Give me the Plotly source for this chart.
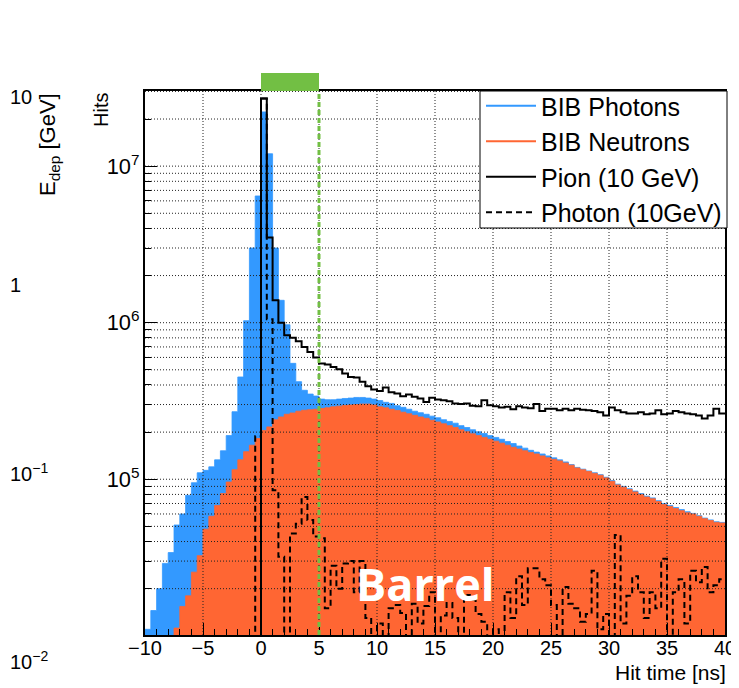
import numpy as np
import plotly.graph_objects as go

# ---------------- data (hits per 0.5 ns bin, -10 .. 40 ns) ----------------
BIN_LOW = -10.0
BIN_WIDTH = 0.5
N_BINS = 100

bib_photons = [
    1.1e4, 1.45e4, 2.0e4, 2.9e4, 3.4e4, 5.1e4, 6.0e4, 7.9e4, 9.5e4, 1.1e5,
    1.14e5, 1.2e5, 1.33e5, 1.52e5, 1.9e5, 2.7e5, 4.5e5, 1.03e6, 3.0e6, 6.45e6,
    2.22e7, 1.2e7, 3.0e6, 1.39e6, 9.7e5, 5.5e5, 4.2e5, 3.7e5, 3.5e5, 3.4e5,
    3.25e5, 3.22e5, 3.22e5, 3.25e5, 3.28e5, 3.3e5, 3.33e5, 3.33e5, 3.3e5, 3.25e5,
    3.18e5, 3.1e5, 3.05e5, 2.95e5, 2.88e5, 2.8e5, 2.72e5, 2.66e5, 2.6e5, 2.53e5,
    2.47e5, 2.4e5, 2.34e5, 2.28e5, 2.2e5, 2.14e5, 2.07e5, 2.01e5, 1.96e5, 1.9e5,
    1.85e5, 1.8e5, 1.74e5, 1.69e5, 1.63e5, 1.58e5, 1.53e5, 1.49e5, 1.45e5, 1.41e5,
    1.37e5, 1.33e5, 1.29e5, 1.24e5, 1.19e5, 1.16e5, 1.13e5, 1.1e5, 1.07e5, 1.03e5,
    9.8e4, 9.3e4, 9.0e4, 8.7e4, 8.4e4, 8.1e4, 7.8e4, 7.6e4, 7.3e4, 7.0e4,
    6.8e4, 6.6e4, 6.4e4, 6.2e4, 6.05e4, 5.85e4, 5.65e4, 5.5e4, 5.35e4, 5.3e4,
]

bib_neutrons = [
    0, 0, 0, 0, 0, 1.12e4, 1.54e4, 1.8e4, 2.55e4, 3.25e4,
    4.8e4, 5.8e4, 6.8e4, 8.1e4, 9.6e4, 1.15e5, 1.33e5, 1.5e5, 1.65e5, 1.82e5,
    2.05e5, 2.16e5, 2.4e5, 2.5e5, 2.6e5, 2.65e5, 2.72e5, 2.76e5, 2.78e5, 2.8e5,
    2.83e5, 2.86e5, 2.9e5, 2.93e5, 2.96e5, 2.98e5, 3.0e5, 3.02e5, 3.02e5, 2.98e5,
    2.9e5, 2.86e5, 2.8e5, 2.75e5, 2.68e5, 2.62e5, 2.56e5, 2.5e5, 2.45e5, 2.38e5,
    2.32e5, 2.26e5, 2.2e5, 2.14e5, 2.07e5, 2.01e5, 1.95e5, 1.9e5, 1.85e5, 1.8e5,
    1.75e5, 1.7e5, 1.65e5, 1.6e5, 1.56e5, 1.52e5, 1.48e5, 1.45e5, 1.41e5, 1.37e5,
    1.34e5, 1.31e5, 1.27e5, 1.23e5, 1.18e5, 1.15e5, 1.12e5, 1.09e5, 1.06e5, 1.02e5,
    9.7e4, 9.2e4, 8.9e4, 8.6e4, 8.3e4, 8.0e4, 7.7e4, 7.5e4, 7.2e4, 6.9e4,
    6.7e4, 6.5e4, 6.3e4, 6.1e4, 6.0e4, 5.8e4, 5.6e4, 5.45e4, 5.3e4, 5.25e4,
]

pion_10gev = [
    0, 0, 0, 0, 0, 0, 0, 0, 0, 0,
    0, 0, 0, 0, 0, 0, 0, 0, 0, 0,
    2.7e7, 3.5e6, 1.39e6, 1.0e6, 8.3e5, 8.0e5, 7.6e5, 7.0e5, 6.5e5, 6.0e5,
    5.48e5, 5.4e5, 5.22e5, 5.05e5, 4.73e5, 4.5e5, 4.47e5, 4.19e5, 3.93e5, 3.74e5,
    3.66e5, 3.85e5, 3.6e5, 3.53e5, 3.39e5, 3.48e5, 3.36e5, 3.28e5, 3.12e5, 3.31e5,
    3.23e5, 3.2e5, 3.15e5, 3.05e5, 3.02e5, 3.05e5, 2.95e5, 2.93e5, 3.2e5, 2.97e5,
    2.93e5, 2.87e5, 2.9e5, 2.8e5, 2.93e5, 2.87e5, 2.84e5, 3.02e5, 2.73e5, 2.82e5,
    2.82e5, 2.76e5, 2.82e5, 2.76e5, 2.82e5, 2.78e5, 2.76e5, 2.73e5, 2.68e5, 2.55e5,
    2.87e5, 2.76e5, 2.68e5, 2.63e5, 2.63e5, 2.68e5, 2.6e5, 2.63e5, 2.76e5, 2.6e5,
    2.63e5, 2.73e5, 2.68e5, 2.63e5, 2.6e5, 2.55e5, 2.44e5, 2.55e5, 2.82e5, 2.63e5,
]

photon_10gev = [
    0, 0, 0, 0, 0, 0, 0, 0, 0, 0,
    0, 0, 0, 0, 0, 0, 0, 0, 0, 1.88e5,
    2.7e7, 1.05e6, 8.5e4, 3.2e4, 0, 4.5e4, 5.2e4, 7.7e4, 5.5e4, 4.3e4,
    4.2e4, 1.5e4, 2.8e4, 2.0e4, 2.9e4, 3.0e4, 1.9e4, 3.0e4, 1.3e4, 0,
    1.2e4, 0, 1.5e4, 1.57e4, 1.4e4, 0, 1.6e4, 1.2e4, 1.55e4, 1.9e4,
    0, 1.35e4, 1.62e4, 1.3e4, 0, 1.82e4, 1.7e4, 1.38e4, 1.23e4, 0,
    1.1e4, 0, 1.9e4, 1.3e4, 2.4e4, 1.57e4, 2.7e4, 2.7e4, 2.3e4, 2.1e4,
    1.57e4, 0, 2.05e4, 1.6e4, 1.5e4, 1.23e4, 1.38e4, 2.6e4, 1.1e4, 1.38e4,
    0, 4.4e4, 1.2e4, 1.8e4, 2.4e4, 1.9e4, 1.3e4, 1.9e4, 1.5e4, 3.1e4,
    0, 1.9e4, 2.3e4, 1.2e4, 2.6e4, 2.2e4, 2.75e4, 1.9e4, 2.1e4, 2.3e4,
]

X_RANGE = [-10, 40]
X_TICK_STEP = 5
HITS_LOG_RANGE = [4.005, 7.48]
EDEP_LOG_RANGE = [-2.0, 1.0]          # secondary energy scale (log10 GeV)
EDEP_TICKS = [10, 1, 0.1, 0.01]
EDEP_TICK_TEXT = ["10", "1", "10<sup>\u22121</sup>", "10<sup>\u22122</sup>"]
TIMING_WINDOW = [0, 5]          # ns, green band
LABELS = ["BIB Photons", "BIB Neutrons", "Pion (10 GeV)", "Photon (10GeV)"]

BLUE = "#3399FF"
ORANGE = "#FF6633"
GREEN = "#72BF44"
FONT = "Liberation Sans, Arial, Helvetica, sans-serif"

# ---------------- layout geometry ----------------
OFF = 8                      # page body margin
W, H = 739 - OFF, 688 - OFF
PL, PR, PT, PB = 145, 725, 91, 635           # frame in page pixels
ML, MR, MT, MB = PL - OFF, W - (PR - OFF), PT - OFF, H - (PB - OFF)
PW, PH = PR - PL, PB - PT


def px(xp):
    return (xp - PL) / PW


def py(yp):
    return (PB - yp) / PH


# ---------------- helpers ----------------
edges = BIN_LOW + BIN_WIDTH * np.arange(N_BINS + 1)


def step(vals):
    v = np.asarray(vals, dtype=float)
    v = np.where(v > 0, v, 1e-3)   # empty bins drop below the frame (log scale)
    return edges, np.append(v, v[-1])


fig = go.Figure()

for vals, col in [(bib_photons, BLUE), (bib_neutrons, ORANGE)]:
    xs, ys = step(vals)
    fig.add_trace(go.Scatter(x=xs, y=ys, mode="lines", line_shape="hv",
                             line=dict(color=col, width=0.8), fill="tozeroy",
                             fillcolor=col, showlegend=False, hoverinfo="skip"))

# dotted grid drawn over the fills (as in ROOT)
gx, gy = [], []
ymin, ymax = 10 ** HITS_LOG_RANGE[0], 10 ** HITS_LOG_RANGE[1]
for dec in range(4, 8):
    for k in range(1, 10):
        v = k * 10 ** dec
        if ymin < v < ymax * 0.995:
            gx += [X_RANGE[0], X_RANGE[1], None]
            gy += [v, v, None]
for xv in range(X_RANGE[0] + X_TICK_STEP, X_RANGE[1], X_TICK_STEP):
    gx += [xv, xv, None]
    gy += [ymin, ymax, None]
fig.add_trace(go.Scatter(x=gx, y=gy, mode="lines",
                         line=dict(color="#222222", width=1, dash="1px,2px"),
                         showlegend=False, hoverinfo="skip"))

for name, col, grp in [(LABELS[0], BLUE, "a"), (LABELS[1], ORANGE, "b")]:
    fig.add_trace(go.Scatter(x=[None], y=[None], mode="lines", name=name,
                             line=dict(color=col, width=2), legendgroup=grp))

xs, ys = step(pion_10gev)
fig.add_trace(go.Scatter(x=xs, y=ys, mode="lines", line_shape="hv", name=LABELS[2],
                         line=dict(color="black", width=2), legendgroup="c",
                         hoverinfo="skip"))
xs, ys = step(photon_10gev)
fig.add_trace(go.Scatter(x=xs, y=ys, mode="lines", line_shape="hv", name=LABELS[3],
                         line=dict(color="black", width=2, dash="6px,4px"),
                         legendgroup="d", hoverinfo="skip"))

# timing window: green band above the frame and dashed line at its end
fig.add_shape(type="rect", xref="x", yref="paper", x0=TIMING_WINDOW[0],
              x1=TIMING_WINDOW[1], y0=1.0, y1=py(73),
              fillcolor=GREEN, line=dict(width=0), layer="above")
fig.add_shape(type="line", xref="x", yref="paper", x0=TIMING_WINDOW[1],
              x1=TIMING_WINDOW[1], y0=0, y1=1,
              line=dict(color=GREEN, width=3, dash="5px,3px"), layer="above")
# legend frame (opaque box, as in ROOT's TLegend)
fig.add_shape(type="rect", xref="paper", yref="paper", x0=px(480), x1=px(727),
              y0=py(228), y1=1.0, fillcolor="white",
              line=dict(color="black", width=1), layer="above")

annotations = [
    dict(text="<b>Barrel</b>", xref="paper", yref="paper", x=px(425), y=py(583),
         xanchor="center", yanchor="middle", showarrow=False,
         font=dict(family="Open Sans, sans-serif", size=45, color="white")),
    dict(text="Hit time [ns]", xref="paper", yref="paper", x=px(728), y=py(672),
         xanchor="right", yanchor="middle", showarrow=False,
         font=dict(size=21, family=FONT)),
    dict(text="Hits", xref="paper", yref="paper", x=px(101), y=py(110),
         xanchor="center", yanchor="middle",
         textangle=-90, showarrow=False, font=dict(size=20, family=FONT)),
    dict(text="E<sub>dep</sub> [GeV]", xref="paper", yref="paper", x=px(49),
         y=py(145), xanchor="center", yanchor="middle",
         textangle=-90, showarrow=False, font=dict(size=22, family=FONT)),
]
# energy scale labels: log axis from 10 (page y 97) down to 10^-2 (page y 660)
EDEP_TOP_PX, EDEP_BOT_PX = 97, 660
for val, txt in zip(EDEP_TICKS, EDEP_TICK_TEXT):
    frac = (np.log10(val) - EDEP_LOG_RANGE[0]) / (EDEP_LOG_RANGE[1] - EDEP_LOG_RANGE[0])
    ypix = EDEP_BOT_PX - frac * (EDEP_BOT_PX - EDEP_TOP_PX)
    annotations.append(dict(text=txt, xref="paper", yref="paper", x=px(OFF), y=py(ypix),
                            xanchor="left", yanchor="middle", showarrow=False,
                            font=dict(size=20, family=FONT)))

fig.update_layout(
    width=W, height=H, autosize=False,
    margin=dict(l=ML, r=MR, t=MT, b=MB, pad=0, autoexpand=False),
    paper_bgcolor="white", plot_bgcolor="white",
    font=dict(family=FONT, color="black"),
    showlegend=True,
    legend=dict(x=px(481), y=py(83), xanchor="left", yanchor="top",
                bgcolor="rgba(0,0,0,0)", borderwidth=0,
                font=dict(size=25, family=FONT, color="black"),
                traceorder="grouped", tracegroupgap=0, itemwidth=50),
    xaxis=dict(range=X_RANGE, anchor="y",
               tickmode="linear", tick0=X_RANGE[0], dtick=X_TICK_STEP,
               ticks="inside", ticklen=12, tickcolor="black", tickwidth=1,
               minor=dict(dtick=1, ticks="inside", ticklen=6, tickcolor="black",
                          showgrid=False),
               showgrid=False, zeroline=False, showline=True, mirror=True,
               linecolor="black", linewidth=2, layer="above traces",
               tickfont=dict(size=20, family=FONT), ticklabelstandoff=-6),
    yaxis=dict(type="log", range=HITS_LOG_RANGE, anchor="x",
               dtick=1, exponentformat="power", ticks="inside", ticklen=12,
               tickcolor="black",
               minor=dict(ticks="inside", ticklen=6, tickcolor="black", showgrid=False),
               showgrid=False, zeroline=False, showline=True, mirror=True,
               linecolor="black", linewidth=2, layer="above traces",
               tickfont=dict(size=17.5, family=FONT)),
    annotations=annotations,
)

fig.write_html("out.html")
